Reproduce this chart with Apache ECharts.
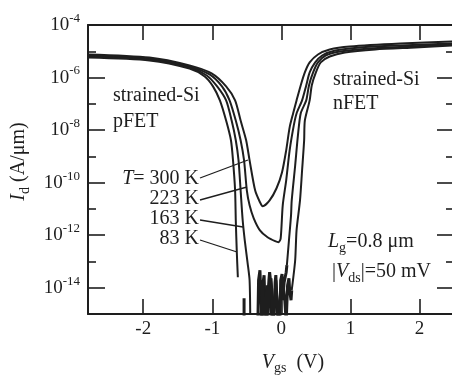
<!DOCTYPE html>
<html><head><meta charset="utf-8">
<script src="https://cdn.jsdelivr.net/npm/echarts@6/dist/echarts.min.js"></script>
<style>html,body{margin:0;padding:0;background:#fff}#c{width:452px;height:375px}</style>
</head><body><div id="c"></div>
<script>
// ---- data (Vgs in V, Id in A/um) ----
const vgs300 = [-2.8,-1.91,-1.33,-1.01,-0.80,-0.67,-0.59,-0.51,-0.46,-0.38,-0.31,-0.27,-0.17,-0.07,0.01,0.07,0.12,0.17,0.22,0.28,0.34,0.41,0.53,0.70,0.99,1.72,2.5];
const id300 = [7.6e-6,5.8e-6,2.9e-6,1.43e-6,4.6e-7,1.35e-7,2.3e-8,4.1e-9,7.0e-10,5.1e-11,1.8e-11,1.26e-11,2.1e-11,6.1e-11,2.5e-10,1.7e-9,1.27e-8,4.3e-8,1.35e-7,5.0e-7,1.56e-6,3.75e-6,7.55e-6,1.17e-5,1.52e-5,1.98e-5,2.36e-5];

const vgs223 = [-2.8,-1.91,-1.33,-1.04,-0.86,-0.75,-0.66,-0.59,-0.54,-0.50,-0.46,-0.40,-0.31,-0.20,-0.09,-0.04,-0.01,0.02,0.07,0.12,0.18,0.22,0.30,0.36,0.41,0.49,0.59,0.78,1.14,1.72,2.5];
const id223 = [6.9e-6,5.3e-6,2.65e-6,1.31e-6,4.6e-7,1.35e-7,2.3e-8,4.1e-9,7.0e-10,5.1e-11,1.37e-11,4.4e-12,1.53e-12,8.3e-13,5.9e-13,5.4e-13,7.6e-13,1.37e-11,1.22e-10,1.69e-9,1.51e-8,4.3e-8,1.35e-7,5.0e-7,1.56e-6,3.75e-6,6.9e-6,1.07e-5,1.39e-5,1.66e-5,1.98e-5];

// 163 K: pFET branch, noise floor, nFET branch
const vgs163p = [-2.8,-1.91,-1.33,-1.08,-0.93,-0.80,-0.72,-0.66,-0.62,-0.59,-0.56,-0.53,-0.49,-0.46,-0.45];
const id163p = [6.3e-6,4.9e-6,2.4e-6,1.2e-6,4.6e-7,1.35e-7,2.3e-8,4.1e-9,7.0e-10,5.1e-11,3.7e-12,6.4e-13,9.3e-14,1.93e-14,5e-16];
const vgs163f = [-0.34,-0.33,-0.31,-0.30,-0.28,-0.27,-0.25,-0.24,-0.22,-0.20,-0.18,-0.17,-0.15,-0.14,-0.11,-0.09,-0.08,-0.07,-0.05,-0.02,-0.01,0.01,0.02,0.04,0.07,0.08];
const id163f = [5e-16,1.93e-14,4.6e-14,8.0e-15,5e-16,1.24e-14,3.0e-14,3.35e-15,5e-16,5e-16,1.93e-14,3.9e-14,1.24e-14,5e-16,5e-16,1.6e-14,3.0e-14,8.0e-15,5e-16,5e-16,1.93e-14,3.3e-14,3.35e-15,1.6e-14,3.9e-14,7.2e-14];
const vgs163n = [0.08,0.11,0.14,0.15,0.20,0.24,0.28,0.36,0.40,0.46,0.53,0.64,0.85,1.28,1.86,2.5];
const id163n = [7.2e-14,6.4e-13,5.7e-12,2.1e-11,4.5e-10,6.3e-9,4.3e-8,1.35e-7,5.0e-7,1.56e-6,3.75e-6,6.9e-6,9.8e-6,1.28e-5,1.52e-5,1.82e-5];

// 83 K: pFET branch, noise floor, nFET branch
const vgs83p = [-2.8,-1.91,-1.33,-1.11,-0.99,-0.89,-0.80,-0.73,-0.70,-0.67,-0.66,-0.645,-0.63];
const id83p = [5.8e-6,4.5e-6,2.2e-6,1.1e-6,4.6e-7,1.35e-7,2.3e-8,4.1e-9,7.0e-10,5.1e-11,3.7e-12,2.2e-13,2.5e-14];
const vgs83f = [-0.54,-0.54,-0.30,-0.28,-0.27,-0.25,-0.22,-0.21,-0.20,-0.17,-0.15,-0.14,-0.12,-0.09,-0.08,-0.07,-0.04,-0.01,0.02,0.05,0.07,0.09,0.11,0.12,0.14,0.15];
const id83f = [4.0e-15,5e-16,5e-16,5.2e-15,1.93e-14,5e-16,3.35e-15,1.24e-14,5e-16,8.0e-15,2.3e-14,8.0e-15,5e-16,5.2e-15,1.93e-14,5.2e-15,5e-16,8.0e-15,1.6e-14,3.35e-15,5e-16,1.24e-14,2.3e-14,8.0e-15,3.35e-15,8.0e-15];
const vgs83n = [0.15,0.20,0.22,0.27,0.30,0.33,0.34,0.41,0.44,0.50,0.57,0.70,0.92,1.36,1.94,2.5];
const id83n = [8.0e-15,1.11e-13,1.53e-12,2.1e-11,2.9e-10,4.1e-9,2.3e-8,1.35e-7,5.0e-7,1.56e-6,3.75e-6,6.3e-6,9.0e-6,1.17e-5,1.39e-5,1.66e-5];

const xTicks = [-2,-1,0,1,2];
const yMajorExp = [-14,-12,-10,-8,-6,-4];
const yMinorExp = [-13,-11,-9,-7,-5];
const tempLabels = ['300 K','223 K','163 K','83 K'];

// ---- chart ----
const C = '#1e1e1e';
const FONT = '"Liberation Serif", "Times New Roman", serif';
const chart = echarts.init(document.getElementById('c'), null, {renderer:'canvas'});
const pts = (v, id) => v.map((x, i) => [x, id[i] == null ? '-' : Math.log10(id[i])]);
const tok = (size, extra) => Object.assign({fontFamily: FONT, fontSize: size, color: C, fill: C}, extra || {});
const lineSeries = (v, id, w, sm) => ({
  type: 'line', data: pts(v, id), symbol: 'none', showSymbol: false, smooth: sm,
  lineStyle: {width: w, color: C}, silent: true, clip: true, xAxisIndex: 0, yAxisIndex: 0
});
const yAx = (pos, exps, len, withLine, labels) => ({
  type: 'value', position: pos, min: -15, max: -4,
  axisLine: {show: withLine, onZero: false, lineStyle: {color: C, width: 2}},
  axisTick: {show: true, inside: true, length: len, customValues: exps, lineStyle: {color: C, width: 1.6}},
  axisLabel: labels ? {
    show: true, customValues: exps, margin: 8,
    formatter: v => '{b|10}{s|' + v + '}',
    rich: {b: tok(19, {lineHeight: 26}), s: tok(13, {verticalAlign: 'top'})}
  } : {show: false},
  splitLine: {show: false}
});
const xAx = (pos, len, labels) => ({
  type: 'value', position: pos, min: -2.8, max: 2.5,
  axisLine: {show: true, onZero: false, lineStyle: {color: C, width: 2}},
  axisTick: {show: true, inside: true, length: len, customValues: xTicks, lineStyle: {color: C, width: 1.6}},
  axisLabel: labels ? {show: true, customValues: xTicks, margin: 6, fontFamily: FONT, fontSize: 19, color: C, formatter: v => String(v)} : {show: false},
  splitLine: {show: false}
});

const xBottom = xAx('bottom', 15, true);
xBottom.name = '{i|V}{sub|gs}{n|  (V)}';
xBottom.nameLocation = 'middle';
xBottom.nameGap = 37;
xBottom.nameTextStyle = {padding: [0,0,0,44], rich: {i: tok(20, {fontStyle: 'italic', lineHeight: 24}), sub: tok(14, {verticalAlign: 'bottom'}), n: tok(20, {lineHeight: 24})}};

const yLeft = yAx('left', yMajorExp, 17, true, true);
yLeft.name = '{i|I}{sub|d}{n| (A/μm)}';
yLeft.nameLocation = 'middle';
yLeft.nameGap = 56;
yLeft.nameRotate = 90;
yLeft.nameTextStyle = {padding: [0,0,0,16], rich: {i: tok(20, {fontStyle: 'italic', lineHeight: 26}), sub: tok(14, {verticalAlign: 'bottom'}), n: tok(20, {lineHeight: 26})}};

const gText = (x, y, text, align, rich) => ({
  type: 'text', silent: true, x: x, y: y,
  style: {text: text, align: align || 'left', verticalAlign: 'middle', fontFamily: FONT, fontSize: 20, fill: C, rich: rich}
});
const richT = {i: tok(20, {fontStyle: 'italic', lineHeight: 26}), n: tok(20, {lineHeight: 26}), sub: tok(14, {verticalAlign: 'bottom'})};
const gLine = (x1, y1, x2, y2) => ({type: 'line', silent: true, shape: {x1, y1, x2, y2}, style: {stroke: C, lineWidth: 1.3}});

chart.setOption({
  animation: false,
  backgroundColor: '#fff',
  grid: {left: 88, right: -2, top: 25, bottom: 61, show: false, containLabel: false, outerBoundsMode: 'none'},
  xAxis: [xBottom, xAx('top', 15, false)],
  yAxis: [yLeft, yAx('left', yMinorExp, 8, false, false), yAx('right', yMajorExp, 17, true, false), yAx('right', yMinorExp, 8, false, false)],
  series: [
    lineSeries(vgs300, id300, 2, 0.25),
    lineSeries(vgs223, id223, 2, 0.25),
    lineSeries(vgs163p, id163p, 2, 0.25),
    lineSeries(vgs163f, id163f, 3, false),
    lineSeries(vgs163n, id163n, 2, 0.25),
    lineSeries(vgs83p, id83p, 2, 0.25),
    lineSeries(vgs83f, id83f, 3, false),
    lineSeries(vgs83n, id83n, 2, 0.25)
  ],
  graphic: [
    gText(113, 96, '{n|strained-Si}', 'left', richT),
    gText(113, 122, '{n|pFET}', 'left', richT),
    gText(333, 80, '{n|strained-Si}', 'left', richT),
    gText(333, 104, '{n|nFET}', 'left', richT),
    gText(199, 179, '{i|T}{n|= ' + tempLabels[0] + '}', 'right', richT),
    gText(199, 199, '{n|' + tempLabels[1] + '}', 'right', richT),
    gText(199, 219, '{n|' + tempLabels[2] + '}', 'right', richT),
    gText(199, 239, '{n|' + tempLabels[3] + '}', 'right', richT),
    gLine(200, 178, 248, 160),
    gLine(200, 200, 247, 187),
    gLine(200, 220, 243, 227),
    gLine(200, 240, 237, 252),
    gText(328, 242, '{i|L}{sub|g}{n|=0.8 μm}', 'left', richT),
    gText(332, 272, '{n||}{i|V}{sub|ds}{n||=50 mV}', 'left', richT)
  ]
});
</script></body></html>
